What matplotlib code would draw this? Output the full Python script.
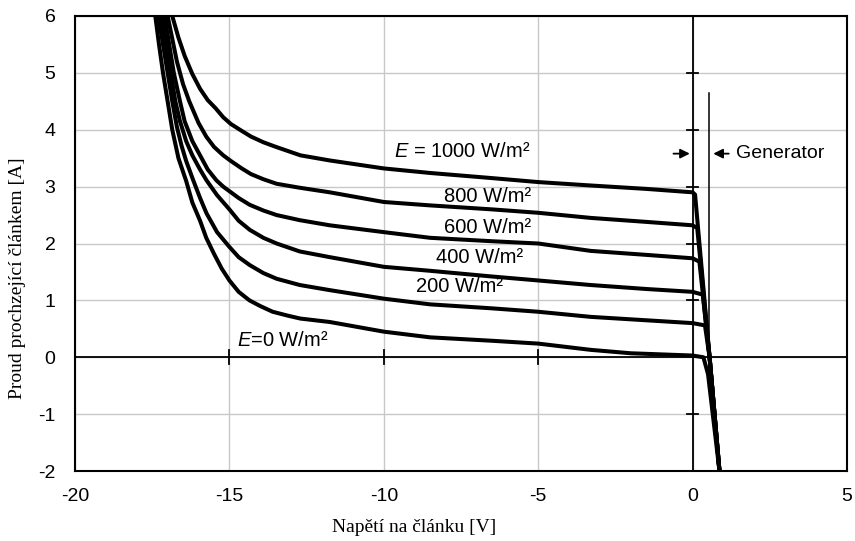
import matplotlib
matplotlib.use("Agg")
import matplotlib.pyplot as plt

plt.rcParams['font.family'] = ['Liberation Sans', 'DejaVu Sans']
plt.rcParams['mathtext.fontset'] = 'custom'
plt.rcParams['mathtext.it'] = 'Liberation Sans:italic'
plt.rcParams['mathtext.rm'] = 'Liberation Sans'

# V-A curves of the cell for several irradiance levels
v_1000 = [-16.85, -16.65, -16.45, -16.2, -15.95, -15.7, -15.45, -15.2, -14.95, -14.6, -14.3, -13.9, -13.5,
          -12.7, -11.75, -10, -8.5, -6.5, -5, -3.3, -1.5, 0, 0.08, 0.55, 0.87]
i_1000 = [6.0, 5.62, 5.3, 4.98, 4.72, 4.52, 4.38, 4.22, 4.1, 3.98, 3.88, 3.78, 3.70,
          3.55, 3.46, 3.32, 3.24, 3.15, 3.08, 3.02, 2.96, 2.90, 2.86, 0.0, -2.0]

v_800 = [-17.0, -16.85, -16.7, -16.5, -16.3, -16.0, -15.75, -15.5, -15.2, -14.95, -14.6, -14.3, -13.9, -13.47,
         -12.72, -11.75, -10, -8.5, -6.5, -5, -3.3, -1.5, 0, 0.15, 0.55, 0.87]
i_800 = [6.0, 5.6, 5.2, 4.8, 4.5, 4.12, 3.88, 3.7, 3.55, 3.45, 3.32, 3.22, 3.13, 3.05,
         2.98, 2.9, 2.73, 2.67, 2.6, 2.54, 2.45, 2.38, 2.32, 2.27, 0.0, -2.0]

v_600 = [-17.1, -16.95, -16.8, -16.6, -16.45, -16.2, -15.95, -15.7, -15.42, -15.2, -15.0, -14.7, -14.34, -13.9,
         -13.47, -12.72, -11.75, -10, -8.5, -6.5, -5, -3.3, -1.5, 0, 0.22, 0.55, 0.87]
i_600 = [6.0, 5.5, 5.0, 4.5, 4.15, 3.8, 3.55, 3.3, 3.11, 3.0, 2.92, 2.8, 2.68, 2.58,
         2.5, 2.41, 2.32, 2.2, 2.1, 2.04, 2.0, 1.87, 1.8, 1.74, 1.68, 0.0, -2.0]

v_400 = [-17.2, -17.05, -16.9, -16.75, -16.6, -16.4, -16.2, -15.95, -15.74, -15.4, -15.0, -14.7, -14.34, -13.9,
         -13.47, -12.72, -11.75, -10, -8.5, -6.5, -5, -3.3, -1.5, 0, 0.33, 0.55, 0.87]
i_400 = [6.0, 5.5, 5.0, 4.5, 4.15, 3.8, 3.55, 3.3, 3.11, 2.85, 2.6, 2.4, 2.24, 2.1,
         2.0, 1.86, 1.76, 1.59, 1.52, 1.42, 1.35, 1.27, 1.2, 1.15, 1.1, 0.0, -2.0]

v_200 = [-17.3, -17.15, -17.0, -16.85, -16.7, -16.55, -16.4, -16.17, -15.95, -15.74, -15.4, -15.0, -14.7, -14.34,
         -13.9, -13.47, -12.72, -11.75, -10, -8.5, -6.5, -5, -3.3, -1.5, 0, 0.40, 0.55, 0.87]
i_200 = [6.0, 5.5, 5.0, 4.5, 4.05, 3.72, 3.45, 3.11, 2.8, 2.53, 2.2, 1.94, 1.76, 1.62,
         1.48, 1.38, 1.27, 1.18, 1.03, 0.93, 0.86, 0.80, 0.71, 0.65, 0.60, 0.56, 0.0, -2.0]

v_0 = [-17.4, -17.28, -17.15, -17.0, -16.85, -16.65, -16.4, -16.2, -15.95, -15.75, -15.5, -15.25, -15.0, -14.7,
       -14.35, -14.0, -13.6, -13.1, -12.7, -11.75, -10, -8.5, -6.5, -5, -3.3, -2, -1, 0, 0.35, 0.5, 0.87]
i_0 = [6.0, 5.5, 5.0, 4.5, 4.0, 3.5, 3.1, 2.72, 2.4, 2.1, 1.82, 1.56, 1.35, 1.15,
       1.0, 0.9, 0.8, 0.73, 0.68, 0.62, 0.45, 0.35, 0.29, 0.24, 0.13, 0.07, 0.05, 0.03, 0.0, -0.3, -2.0]

x_ticks = [-20, -15, -10, -5, 0, 5]
y_ticks = [-2, -1, 0, 1, 2, 3, 4, 5, 6]

curve_labels = ["$E$ = 1000 W/m²", "800 W/m²", "600 W/m²", "400 W/m²", "200 W/m²", "$E$=0 W/m²"]
label_v = [-5.27, -5.22, -5.22, -5.5, -6.15, -14.76]
label_i = [3.61, 2.82, 2.29, 1.76, 1.24, 0.30]

generator_v = 0.52
generator_top = 4.64


def draw_axes_cross(ax):
    ax.axhline(0, color='black', lw=1.3, zorder=2)
    ax.axvline(0, color='black', lw=1.3, zorder=2)
    # small cross ticks on the zero lines
    for y in y_ticks[1:-1]:
        if y != 0:
            ax.plot([-0.17, 0.17], [y, y], color='black', lw=1.3, zorder=2)
    for x in x_ticks[1:4]:
        ax.plot([x, x], [-0.12, 0.12], color='black', lw=1.3, zorder=2)


fig = plt.figure(figsize=(8.55, 5.41), dpi=100)
ax = fig.add_axes([75 / 855, 70 / 541, 772 / 855, 455 / 541])

ax.set_xlim(-20, 5)
ax.set_ylim(-2, 6)
ax.set_xticks(x_ticks)
ax.set_yticks(y_ticks)
ax.set_xticklabels([str(t) for t in x_ticks])
ax.set_yticklabels([str(t) for t in y_ticks])
ax.tick_params(length=0, labelsize=14)
ax.tick_params(axis='x', pad=12)
ax.tick_params(axis='y', pad=14)
ax.grid(True, color='#c8c8c8', lw=1)
ax.set_axisbelow(True)
for s in ax.spines.values():
    s.set_linewidth(1.5)

draw_axes_cross(ax)

for v, i in [(v_1000, i_1000), (v_800, i_800), (v_600, i_600),
             (v_400, i_400), (v_200, i_200), (v_0, i_0)]:
    ax.plot(v, i, color='black', lw=2.9, solid_joinstyle='round', zorder=3)

for k, txt in enumerate(curve_labels):
    ha = 'left' if k == len(curve_labels) - 1 else 'right'
    ax.text(label_v[k], label_i[k], txt, ha=ha, va='center', fontsize=14.5)

# generator marker
ax.plot([generator_v, generator_v], [0, generator_top], color='black', lw=1.1, zorder=2)
ax.annotate("", xy=(0, 3.58), xytext=(-0.71, 3.58),
            arrowprops=dict(arrowstyle='-|>', color='black', lw=1.3, mutation_scale=14))
ax.annotate("", xy=(0.58, 3.58), xytext=(1.26, 3.58),
            arrowprops=dict(arrowstyle='-|>', color='black', lw=1.3, mutation_scale=14))
ax.text(1.42, 3.58, "Generator", ha='left', va='center', fontsize=14)

fig.text(414 / 855, 1 - 527 / 541, "Napětí na článku [V]", ha='center', va='center',
         fontsize=14, family='Liberation Serif')
fig.text(18 / 855, 1 - 278 / 541, "Proud prochzející článkem [A]", ha='center', va='center',
         rotation=90, fontsize=14, family='Liberation Serif')

fig.savefig("out.png", dpi=100)
